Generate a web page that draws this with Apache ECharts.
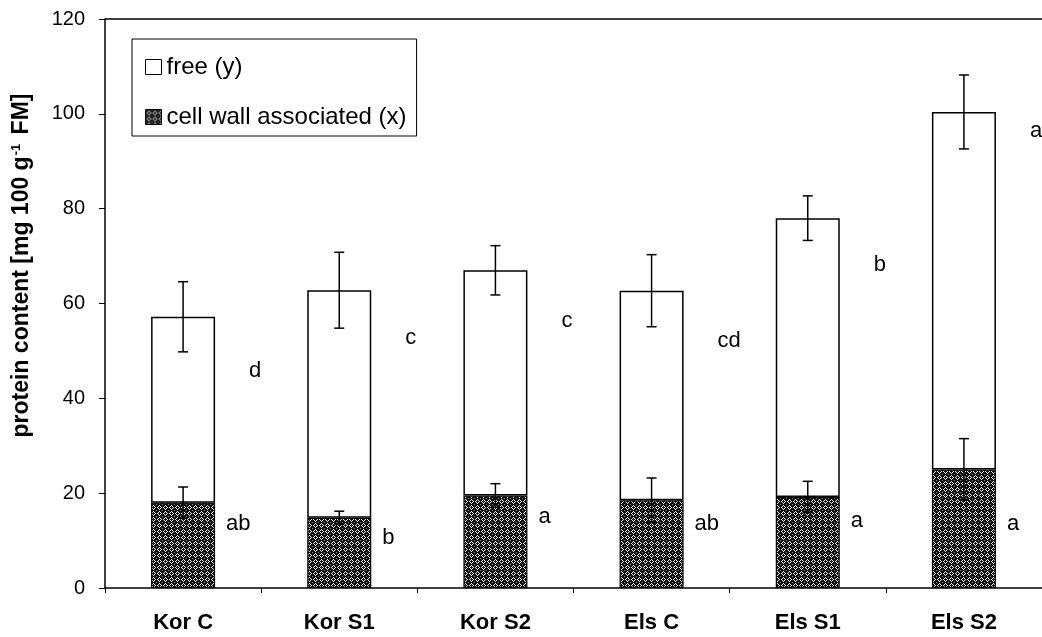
<!DOCTYPE html>
<html>
<head>
<meta charset="utf-8">
<script src="https://cdn.jsdelivr.net/npm/echarts@6/dist/echarts.min.js"></script>
<style>
  html, body { margin: 0; padding: 0; background: #fff; }
  #chart { width: 1042px; height: 637px; }
</style>
</head>
<body>
<div id="chart"></div>
<script>
// Data
const categories = ['Kor C', 'Kor S1', 'Kor S2', 'Els C', 'Els S1', 'Els S2'];
const cellWall = [18.0, 14.8, 19.5, 18.5, 19.2, 25.0];
const cellWallErr = [3.3, 1.4, 2.5, 4.7, 3.3, 6.5];
const free = [39.2, 48.0, 47.5, 44.2, 58.8, 75.4];
const totalErr = [7.4, 8.0, 5.2, 7.6, 4.7, 7.8];
const freeLetters = ['d', 'c', 'c', 'cd', 'b', 'a'];
const freeLetterAt = [45.8, 52.7, 56.3, 52.1, 68.1, 96.4];
const cellWallLetters = ['ab', 'b', 'a', 'ab', 'a', 'a'];
const cellWallLetterAt = [13.6, 10.5, 15.0, 13.6, 14.2, 13.6];
const yTicks = [0, 20, 40, 60, 80, 100, 120];

const FONT = 'Liberation Sans, Arial, sans-serif';

// crosshatch fill for the cell wall bars
const makePattern = () => {
    const c = document.createElement('canvas');
    c.width = 6;
    c.height = 6;
    const ctx = c.getContext('2d');
    ctx.fillStyle = '#111';
    ctx.fillRect(0, 0, 6, 6);
    ctx.fillStyle = '#e8e8e8';
    [[3, 1], [2, 2], [4, 2], [1, 3], [5, 3], [2, 4], [4, 4], [3, 5]].forEach(p => ctx.fillRect(p[0], p[1], 1, 1));
    ctx.fillStyle = '#888';
    ctx.fillRect(0, 0, 1, 1);
    return c;
};
const hatch = { image: makePattern(), repeat: 'repeat' };

const totals = free.map((v, i) => v + cellWall[i]);

// error bar: vertical line with caps
const errorBar = (params, api) => {
    const i = api.value(0);
    const hi = api.coord([i, api.value(1) + api.value(2)]);
    const lo = api.coord([i, api.value(1) - api.value(2)]);
    const cap = 5;
    const style = { stroke: '#000', lineWidth: 1.5 };
    return {
        type: 'group',
        children: [
            { type: 'line', shape: { x1: hi[0], y1: hi[1], x2: lo[0], y2: lo[1] }, style },
            { type: 'line', shape: { x1: hi[0] - cap, y1: hi[1], x2: hi[0] + cap, y2: hi[1] }, style },
            { type: 'line', shape: { x1: lo[0] - cap, y1: lo[1], x2: lo[0] + cap, y2: lo[1] }, style }
        ]
    };
};

const letterItem = (dx) => (params, api) => {
    const p = api.coord([api.value(0), api.value(1)]);
    return {
        type: 'text',
        style: {
            text: api.value(2),
            x: p[0] + dx,
            y: p[1],
            fill: '#000',
            font: '22px ' + FONT,
            align: 'left',
            verticalAlign: 'middle'
        }
    };
};

const chart = echarts.init(document.getElementById('chart'), null, { renderer: 'canvas' });

const option = {
    animation: false,
    backgroundColor: '#fff',
    grid: { left: 105, right: 0, top: 19, bottom: 49, outerBoundsMode: 'none', containLabel: false },
    legend: {
        left: 132,
        top: 39,
        orient: 'vertical',
        selectedMode: false,
        borderColor: '#000',
        borderWidth: 1,
        padding: [16, 10, 7, 13],
        itemGap: 26,
        itemWidth: 16,
        itemHeight: 15,
        icon: 'rect',
        itemStyle: { borderColor: '#000', borderWidth: 1 },
        textStyle: { fontSize: 24, fontFamily: FONT, color: '#000', lineHeight: 24 },
        data: ['free (y)', 'cell wall associated (x)']
    },
    xAxis: {
        type: 'category',
        data: categories,
        axisLine: { lineStyle: { color: '#000', width: 1.5 } },
        axisTick: { show: true, length: 5, lineStyle: { color: '#000' } },
        axisLabel: { color: '#000', fontSize: 22, fontWeight: 'bold', fontFamily: FONT, margin: 24 }
    },
    yAxis: {
        type: 'value',
        min: 0,
        max: 120,
        interval: 20,
        name: 'protein content [mg 100 g{sup|-1} FM]',
        nameLocation: 'middle',
        nameRotate: 90,
        nameGap: 72,
        nameTextStyle: {
            color: '#000', fontSize: 23, fontWeight: 'bold', fontFamily: FONT,
            padding: [0, 0, 0, 76],
            rich: {
                sup: { fontSize: 13, fontWeight: 'bold', fontFamily: FONT, color: '#000', verticalAlign: 'top', padding: [0, 3, 10, 1] }
            }
        },
        axisLine: { show: true, lineStyle: { color: '#000', width: 1.5 } },
        axisTick: { show: true, length: 6, lineStyle: { color: '#000' } },
        axisLabel: {
            color: '#000', fontSize: 20, fontFamily: FONT, margin: 20,
            align: 'right',
            verticalAlign: 'middle',
            formatter: v => (yTicks.includes(v) ? String(v) : '')
        },
        splitLine: { show: false }
    },
    series: [
        {
            name: 'cell wall associated (x)',
            type: 'bar',
            stack: 'p',
            barWidth: 64,
            data: cellWall,
            itemStyle: { color: hatch, borderColor: '#000', borderWidth: 1.2 }
        },
        {
            name: 'free (y)',
            type: 'bar',
            stack: 'p',
            barWidth: 64,
            data: free,
            itemStyle: { color: '#fff', borderColor: '#000', borderWidth: 1.5 },
            // top frame line of the plot area
            markLine: {
                silent: true,
                symbol: 'none',
                label: { show: false },
                lineStyle: { color: '#000', width: 1.5, type: 'solid' },
                data: [{ yAxis: yTicks[yTicks.length - 1] }]
            }
        },
        {
            type: 'custom',
            renderItem: errorBar,
            z: 5,
            data: totals.map((v, i) => [i, v, totalErr[i]])
        },
        {
            type: 'custom',
            renderItem: errorBar,
            z: 5,
            data: cellWall.map((v, i) => [i, v, cellWallErr[i]])
        },
        {
            type: 'custom',
            renderItem: letterItem(66),
            z: 5,
            data: freeLetters.map((t, i) => [i, freeLetterAt[i], t])
        },
        {
            type: 'custom',
            renderItem: letterItem(43),
            z: 5,
            data: cellWallLetters.map((t, i) => [i, cellWallLetterAt[i], t])
        }
    ]
};

chart.setOption(option);
window.addEventListener('resize', () => chart.resize());
</script>
</body>
</html>
